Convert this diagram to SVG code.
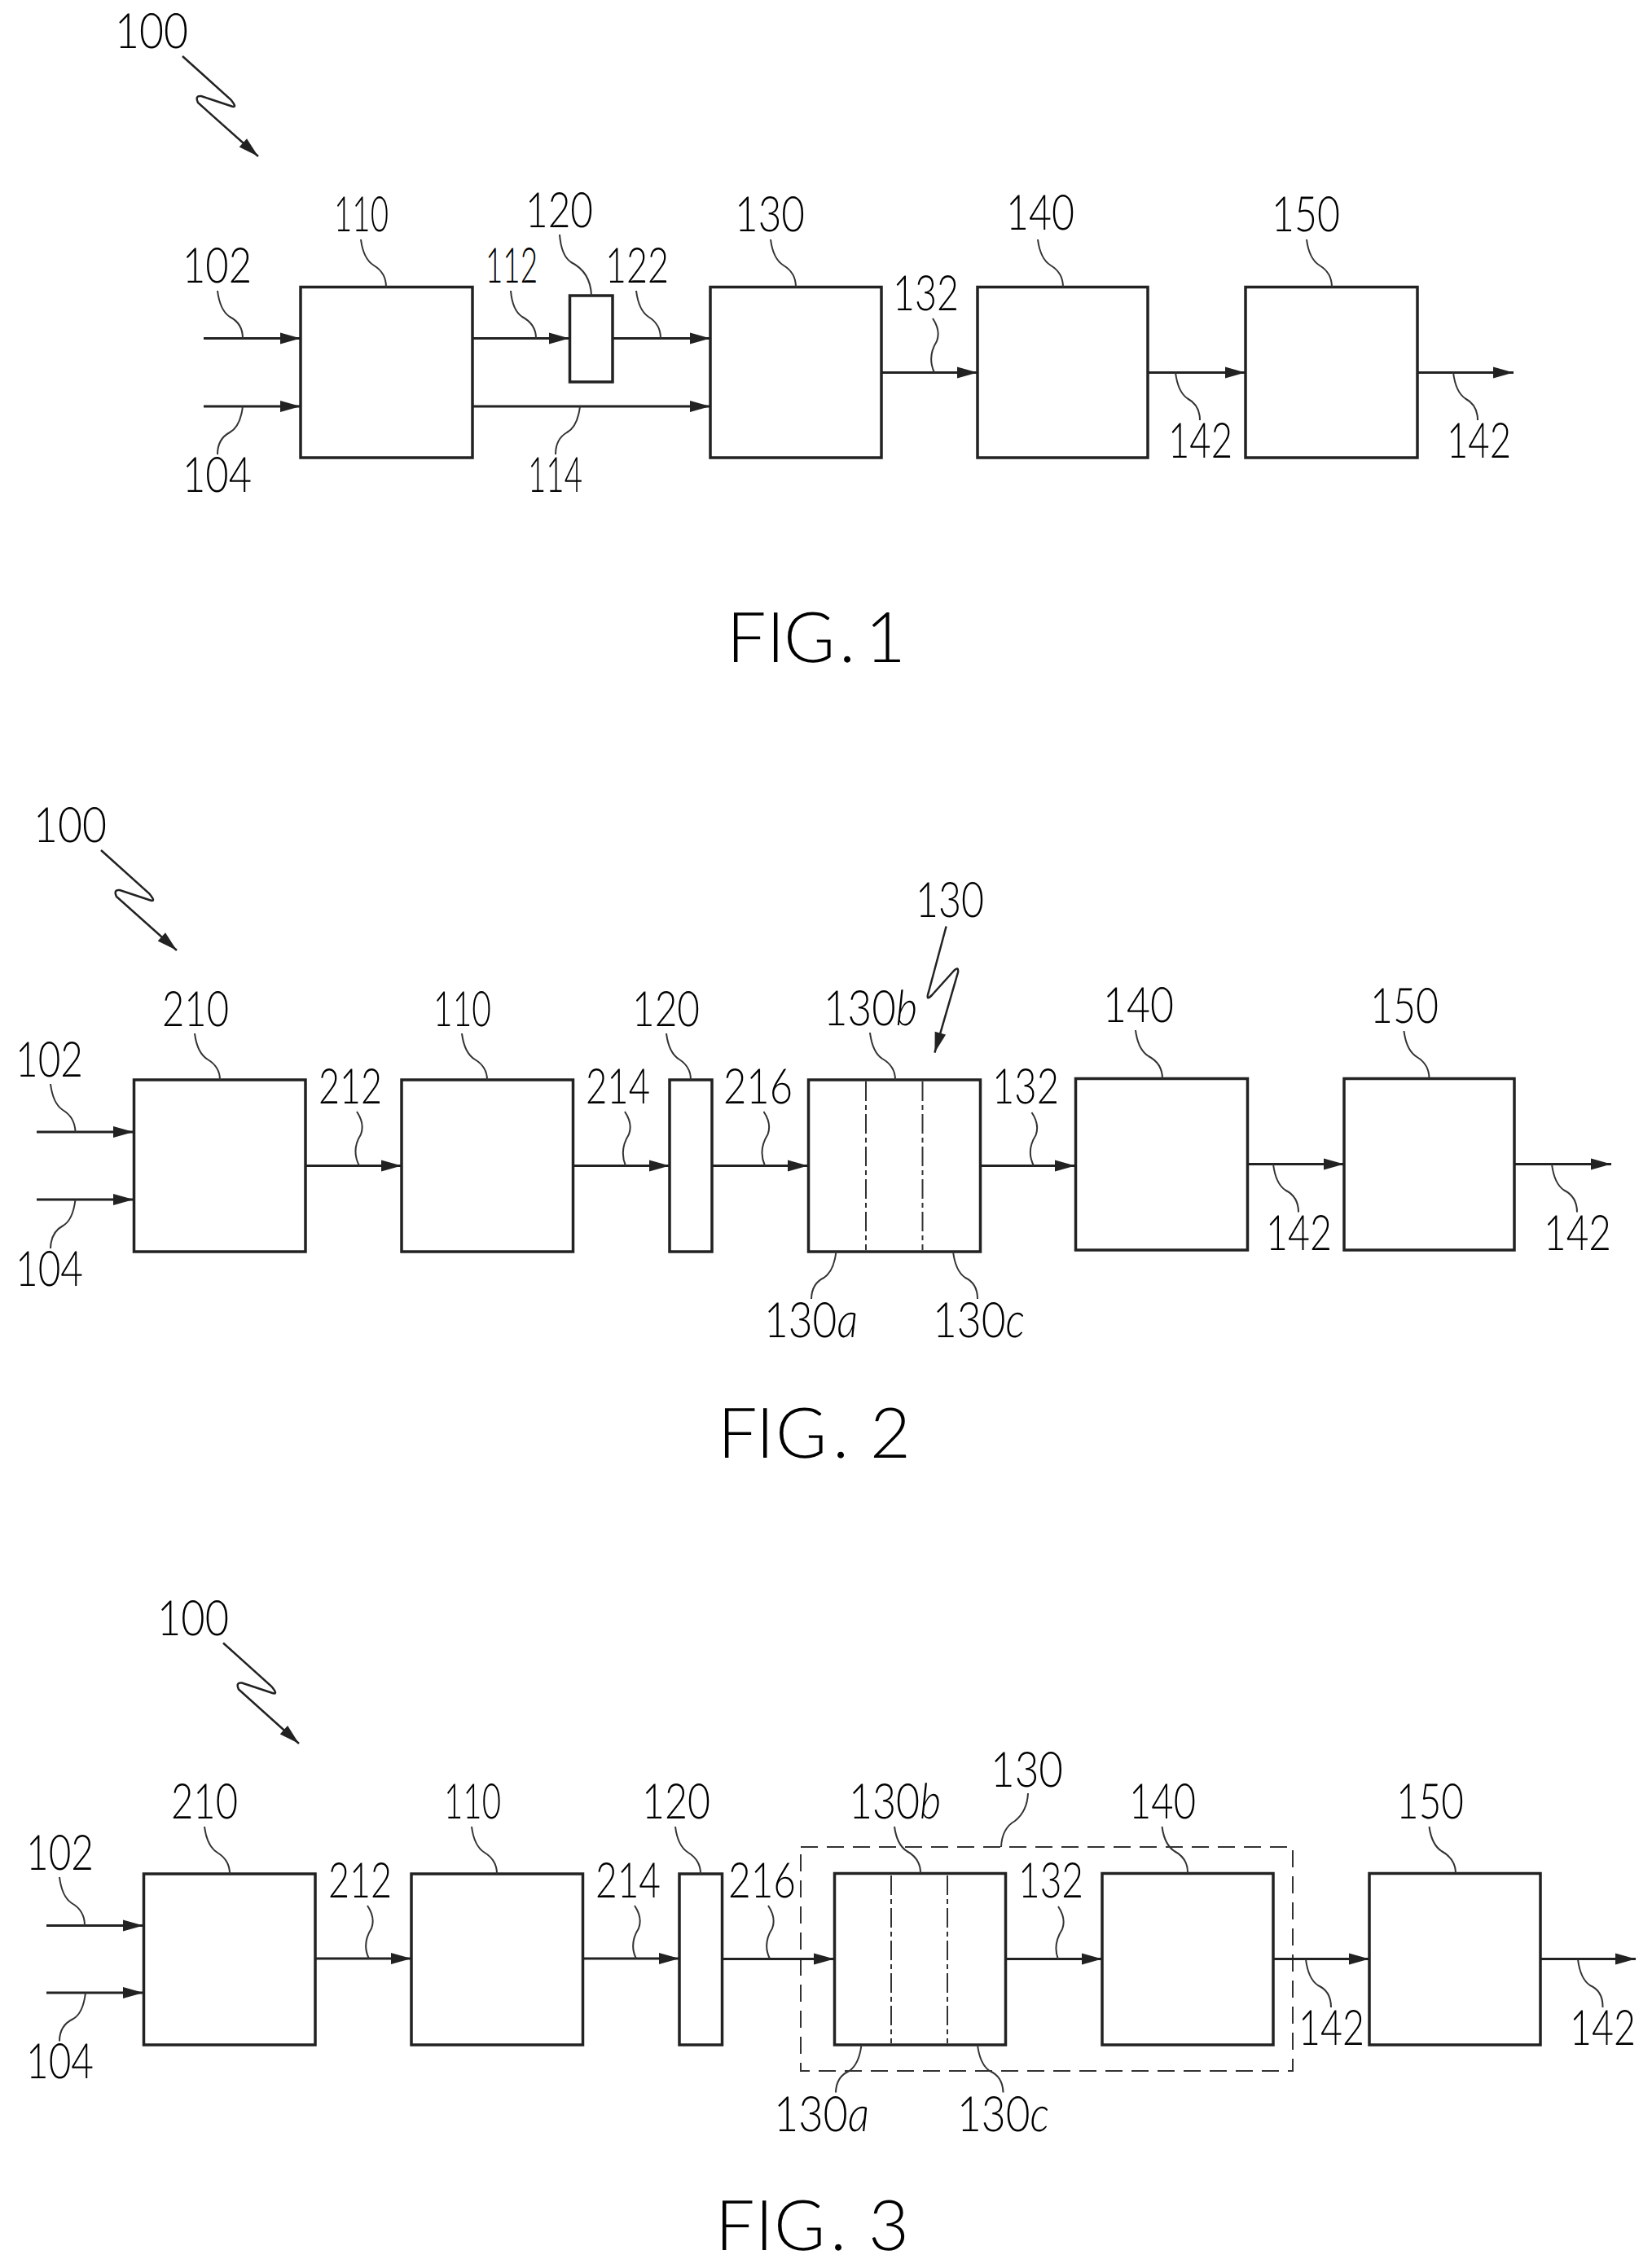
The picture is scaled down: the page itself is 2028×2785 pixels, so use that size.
<svg xmlns="http://www.w3.org/2000/svg" width="2028" height="2785" viewBox="0 0 2028 2785">
<style>
.bg{fill:#fff}
.b{fill:none;stroke:#222;stroke-width:3.5}
.a{fill:none;stroke:#222;stroke-width:3;marker-end:url(#h)}
.l{fill:none;stroke:#333;stroke-width:2}
.s{fill:none;stroke:#222;stroke-width:2.5;marker-end:url(#h)}
.d{fill:none;stroke:#333;stroke-width:2;stroke-dasharray:24 5 6 5}
.g{fill:none;stroke:#333;stroke-width:2;stroke-dasharray:21 11}
text{font-family:"Lato","Liberation Sans",sans-serif;font-weight:300;font-size:60px;fill:#000;text-rendering:geometricPrecision}
.f{font-size:86px}
.i{font-style:italic}
</style>
<defs><marker id="h" markerUnits="userSpaceOnUse" markerWidth="27" markerHeight="16" viewBox="0 0 27 16" refX="26" refY="8" orient="auto"><path d="M1 1L26 8L1 15Z" fill="#222"/></marker></defs>
<rect class="bg" width="2028" height="2785"/>
<g id="fig1">
<text id="fig1-ref" x="141" y="59" textLength="90" lengthAdjust="spacingAndGlyphs">100</text>
<text x="224" y="347" textLength="85" lengthAdjust="spacingAndGlyphs">102</text>
<text x="224" y="604" textLength="85" lengthAdjust="spacingAndGlyphs">104</text>
<text x="596" y="347" textLength="64" lengthAdjust="spacingAndGlyphs">112</text>
<text x="743" y="347" textLength="78" lengthAdjust="spacingAndGlyphs">122</text>
<text x="648" y="604" textLength="67" lengthAdjust="spacingAndGlyphs">114</text>
<text x="1096" y="381" textLength="81" lengthAdjust="spacingAndGlyphs">132</text>
<text x="1434" y="562" textLength="79" lengthAdjust="spacingAndGlyphs">142</text>
<text x="1776" y="562" textLength="79" lengthAdjust="spacingAndGlyphs">142</text>
<text class="f" x="892 941 962 1030 1048 1062" y="813">FIG. 1</text>
<g id="n110"><rect class="b" x="369" y="352.5" width="211" height="209.5"/><text x="410" y="284" textLength="67" lengthAdjust="spacingAndGlyphs">110</text></g>
<g id="n120"><rect class="b" x="699.5" y="363" width="52.5" height="106"/><text x="645" y="279" textLength="83" lengthAdjust="spacingAndGlyphs">120</text></g>
<g id="n130"><rect class="b" x="872" y="352.5" width="210" height="209.5"/><text x="902" y="284" textLength="86" lengthAdjust="spacingAndGlyphs">130</text></g>
<g id="n140"><rect class="b" x="1200" y="352.5" width="209" height="209.5"/><text x="1235" y="282" textLength="84" lengthAdjust="spacingAndGlyphs">140</text></g>
<g id="n150"><rect class="b" x="1529" y="352.5" width="211" height="209.5"/><text x="1561" y="284" textLength="84" lengthAdjust="spacingAndGlyphs">150</text></g>
</g>
<g id="fig2">
<text x="41" y="1034" textLength="90" lengthAdjust="spacingAndGlyphs">100</text>
<text x="19" y="1322" textLength="83" lengthAdjust="spacingAndGlyphs">102</text>
<text x="19" y="1579" textLength="83" lengthAdjust="spacingAndGlyphs">104</text>
<text x="391" y="1355" textLength="78" lengthAdjust="spacingAndGlyphs">212</text>
<text x="719" y="1355" textLength="79" lengthAdjust="spacingAndGlyphs">214</text>
<text x="888" y="1355" textLength="85" lengthAdjust="spacingAndGlyphs">216</text>
<text x="1218" y="1355" textLength="82" lengthAdjust="spacingAndGlyphs">132</text>
<text x="1124" y="1126" textLength="84" lengthAdjust="spacingAndGlyphs">130</text>
<text x="1011" y="1259" textLength="115" lengthAdjust="spacingAndGlyphs">130<tspan class="i">b</tspan></text>
<text x="938" y="1642" textLength="115" lengthAdjust="spacingAndGlyphs">130<tspan class="i">a</tspan></text>
<text x="1145" y="1642" textLength="113" lengthAdjust="spacingAndGlyphs">130<tspan class="i">c</tspan></text>
<text x="1554" y="1535" textLength="81" lengthAdjust="spacingAndGlyphs">142</text>
<text x="1895" y="1535" textLength="83" lengthAdjust="spacingAndGlyphs">142</text>
<text class="f" x="881 928 952 1022 1040 1068" y="1790">FIG. 2</text>
<g id="n210b"><rect class="b" x="164.5" y="1326" width="210.5" height="211"/><text x="199" y="1260" textLength="82" lengthAdjust="spacingAndGlyphs">210</text></g>
<g id="n110b"><rect class="b" x="493" y="1326" width="210.5" height="211"/><text x="532" y="1260" textLength="71" lengthAdjust="spacingAndGlyphs">110</text></g>
<g id="n120b"><rect class="b" x="822" y="1326" width="52" height="211"/><text x="776" y="1260" textLength="83" lengthAdjust="spacingAndGlyphs">120</text></g>
<g id="n130b"><rect class="b" x="992.5" y="1326" width="211" height="211"/><path class="d" d="M1063 1328V1535M1132.5 1328V1535"/></g>
<g id="n140b"><rect class="b" x="1320.5" y="1324.5" width="211" height="210.5"/><text x="1354" y="1255" textLength="87" lengthAdjust="spacingAndGlyphs">140</text></g>
<g id="n150b"><rect class="b" x="1650" y="1324.5" width="209" height="210.5"/><text x="1682" y="1256" textLength="84" lengthAdjust="spacingAndGlyphs">150</text></g>
</g>
<g id="fig3">
<text x="193" y="2008" textLength="88" lengthAdjust="spacingAndGlyphs">100</text>
<text x="32" y="2296" textLength="83" lengthAdjust="spacingAndGlyphs">102</text>
<text x="32" y="2552" textLength="83" lengthAdjust="spacingAndGlyphs">104</text>
<text x="403" y="2330" textLength="78" lengthAdjust="spacingAndGlyphs">212</text>
<text x="731" y="2330" textLength="80" lengthAdjust="spacingAndGlyphs">214</text>
<text x="894" y="2330" textLength="83" lengthAdjust="spacingAndGlyphs">216</text>
<text x="1250" y="2330" textLength="80" lengthAdjust="spacingAndGlyphs">132</text>
<text x="1216" y="2194" textLength="89" lengthAdjust="spacingAndGlyphs">130</text>
<text x="1042" y="2233" textLength="113" lengthAdjust="spacingAndGlyphs">130<tspan class="i">b</tspan></text>
<text x="950" y="2617" textLength="117" lengthAdjust="spacingAndGlyphs">130<tspan class="i">a</tspan></text>
<text x="1175" y="2617" textLength="113" lengthAdjust="spacingAndGlyphs">130<tspan class="i">c</tspan></text>
<text x="1594" y="2511" textLength="81" lengthAdjust="spacingAndGlyphs">142</text>
<text x="1927" y="2511" textLength="81" lengthAdjust="spacingAndGlyphs">142</text>
<text class="f" x="878 927 950 1019 1037 1066" y="2763">FIG. 3</text>
<rect id="n130-group" class="g" x="983" y="2268" width="604" height="275"/>
<g id="n210c"><rect class="b" x="176.5" y="2301" width="210.5" height="210"/><text x="210" y="2233" textLength="82" lengthAdjust="spacingAndGlyphs">210</text></g>
<g id="n110c"><rect class="b" x="505" y="2301" width="210.5" height="210"/><text x="545" y="2233" textLength="70" lengthAdjust="spacingAndGlyphs">110</text></g>
<g id="n120c"><rect class="b" x="834" y="2301" width="52.5" height="210"/><text x="788" y="2233" textLength="84" lengthAdjust="spacingAndGlyphs">120</text></g>
<g id="n130c"><rect class="b" x="1024.5" y="2300.5" width="210" height="210.5"/><path class="d" d="M1094 2303V2509M1163 2303V2509"/></g>
<g id="n140c"><rect class="b" x="1353" y="2300.5" width="210" height="210.5"/><text x="1386" y="2233" textLength="82" lengthAdjust="spacingAndGlyphs">140</text></g>
<g id="n150c"><rect class="b" x="1681" y="2300.5" width="210" height="210.5"/><text x="1714" y="2233" textLength="83" lengthAdjust="spacingAndGlyphs">150</text></g>
</g>
<g id="connectors">
<path class="a" d="M250 415.5H369"/><path class="a" d="M250 499H369"/><path class="a" d="M580 415.5H699"/><path class="a" d="M752 415.5H872"/><path class="a" d="M580 499H872"/><path class="a" d="M1082 457.5H1200"/><path class="a" d="M1409 457.5H1529"/><path class="a" d="M1740 457.5H1858"/>
<path class="a" d="M45 1390H164"/><path class="a" d="M45 1473H164"/><path class="a" d="M375 1431.5H493"/><path class="a" d="M703.5 1431.5H822"/><path class="a" d="M874 1431.5H992"/><path class="a" d="M1203.5 1431.5H1320"/><path class="a" d="M1531.5 1429.5H1650"/><path class="a" d="M1859 1429.5H1978"/>
<path class="a" d="M57 2364.5H176"/><path class="a" d="M57 2447H176"/><path class="a" d="M387 2405H505"/><path class="a" d="M715.5 2405H834"/><path class="a" d="M886.5 2405.5H1024"/><path class="a" d="M1234.5 2405.5H1353"/><path class="a" d="M1563 2405.5H1681"/><path class="a" d="M1891 2405.5H2008"/>
<path class="s" d="M224 69L283 122Q293 134 283 130L247 118Q239 117 243 126L317 192"/>
<path class="s" d="M124 1044L183 1097Q193 1109 183 1105L147 1093Q139 1092 143 1101L217 1167"/>
<path class="s" d="M274 2017.5L333 2070.5Q343 2082.5 333 2078.5L297 2066.5Q289 2065.5 293 2074.5L367 2141"/>
<path class="s" d="M1161.6 1137.5L1140 1218Q1136 1230 1144 1222L1171 1192Q1177 1186 1176 1194L1147.4 1292.6"/>
<path class="l" d="M267 357q3 24 15 32q16 8 16 26.500M443 294q3 24 16 32q15 9 15 26.500M687 288q2 26 14 34q24 12 25 41M627 357q2 24 14 32q17 9 17 26.500M781 357q3 24 15 32q15 9 15 26.500M946 294q3 24 16 32q15 9 15 26.500M1274 294q3 24 16 32q15 9 15 26.500M1604 294q3 24 16 32q15 9 15 26.500"/>
<path class="l" d="M298 499q-3 25 -16 32q-15 8 -15 27M712 499q-3 25 -16 32q-14 8 -14 27M1145 391q10 15 5 28q-12 19 -3 38.500M1443 457.500q3 24 15 32q15 8 15 26.500M1784 457.500q3 24 15 32q15 8 15 26.500"/>
<path class="l" d="M62 1331q3 24 15 32q15 9 15.500 27M92.500 1473q-3 25 -15 32q-15 8 -15.500 28M239 1269q3 24 16 32q15 9 15 25M567 1269q3 24 16 32q15 9 15 25M818 1269q3 24 16 32q14 9 14 25M438 1365q10 15 5 28q-12 19 -2 38.500M767 1365q10 15 5 28q-12 19 -4 38.500M937.500 1365q10 15 5 28q-12 19 -3.500 38.500M1266.500 1366q10 15 5 28q-12 19 -2.500 37.500M1068 1268q3 24 15 32q16 9 16 26M1394 1265q3 24 16 32q17 9 17 27.500M1723.500 1266q3 24 16 32q15 9 15 26.500M1026.500 1537q-3 24 -15 32q-15 7 -15.500 26M1170 1537q3 24 15 32q15 7 15 26M1563 1429.500q3 24 15 32q16 8 16 27M1905 1429.500q3 24 15 32q16 8 16 27"/>
<path class="l" d="M73 2305q3 24 15 32q16 9 16 27.500M105 2447q-3 25 -15 32q-17 8 -17 27.500M251 2243q3 24 16 32q15 9 15 26M579 2243q3 24 16 32q15 9 15 26M829 2243q3 24 16 32q15 9 15 26M451 2340q10 15 5 28q-12 19 -3 37M779 2340q10 15 5 28q-12 19 -3 37M943 2340q10 15 5 28q-12 19 -3 37M1299 2341q10 15 5 28q-12 19 -5 37M1262 2202q-1 22 -16 34q-16 9 -17 32M1098 2243q3 22 15 30q17 9 17 27M1426.500 2243q3 22 15 30q17 9 16.500 27M1754.500 2243q3 22 15 30q17 9 17.500 27M1057.500 2511q-3 24 -15 32q-16 7 -16.500 26.500M1200 2511q3 24 15 32q16 7 16.500 26.500M1603 2406q3 24 15 32q16 7 16 27M1937 2406q3 24 15 32q16 7 15.500 27"/>
</g>
</svg>
